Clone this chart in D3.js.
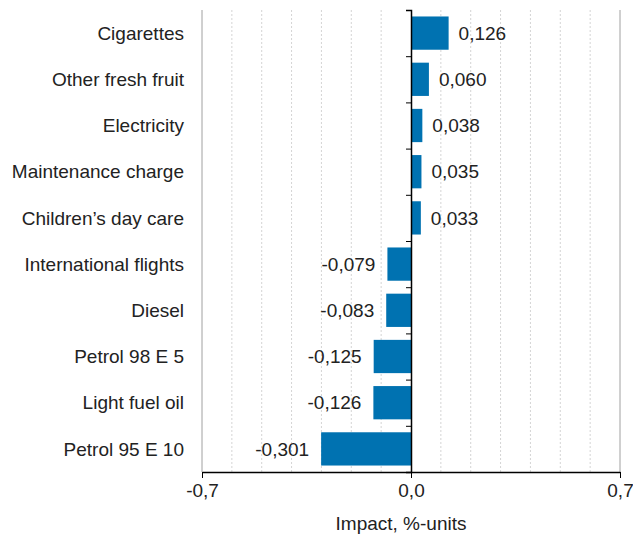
<!DOCTYPE html>
<html>
<head>
<meta charset="utf-8">
<script src="https://cdn.jsdelivr.net/npm/d3@7"></script>
<style>
  body { margin: 0; background: #fff; }
  text { font-family: "Liberation Sans", Arial, sans-serif; fill: #222; }
</style>
</head>
<body>
<div id="chart"></div>
<script>
const categories = ["Cigarettes", "Other fresh fruit", "Electricity", "Maintenance charge",
  "Children\u2019s day care", "International flights", "Diesel", "Petrol 98 E 5",
  "Light fuel oil", "Petrol 95 E 10"];
const values = [0.126, 0.060, 0.038, 0.035, 0.033, -0.079, -0.083, -0.125, -0.126, -0.301];
const xTicks = [-0.7, 0, 0.7];
const axisTitle = "Impact, %-units";

const width = 633, height = 539;
const margin = { top: 10, right: 13, bottom: 67, left: 202 };
const fontSize = "19px";

const svg = d3.select("#chart").append("svg")
  .attr("width", width)
  .attr("height", height);

const x = d3.scaleLinear()
  .domain([-0.7, 0.7])
  .range([margin.left, width - margin.right]);

const y = d3.scaleBand()
  .domain(categories)
  .range([margin.top, height - margin.bottom])
  .paddingInner(0.28)
  .paddingOuter(0.14);

const fmt = (v, p) => d3.format(p)(v).replace("\u2212", "-").replace(".", ",");

// grid lines every 0.1
const grid = d3.range(-7, 8).map(i => i / 10);
svg.append("g")
  .selectAll("line")
  .data(grid.filter(d => Math.abs(d) > 1e-9 && Math.abs(d) < 0.69))
  .enter().append("line")
    .attr("x1", d => x(d)).attr("x2", d => x(d))
    .attr("y1", margin.top).attr("y2", height - margin.bottom)
    .attr("stroke", "#d4d4d4")
    .attr("stroke-dasharray", "2,2");

// outer gray lines
svg.append("g")
  .selectAll("line")
  .data([-0.7, 0.7])
  .enter().append("line")
    .attr("x1", d => x(d)).attr("x2", d => x(d))
    .attr("y1", margin.top).attr("y2", height - margin.bottom)
    .attr("stroke", "#a0a0a0");

// bars
svg.append("g")
  .selectAll("rect")
  .data(values)
  .enter().append("rect")
    .attr("x", d => x(Math.min(0, d)))
    .attr("width", d => Math.abs(x(d) - x(0)))
    .attr("y", (d, i) => y(categories[i]))
    .attr("height", y.bandwidth())
    .attr("fill", "#0072b1");

// value labels
svg.append("g")
  .selectAll("text")
  .data(values)
  .enter().append("text")
    .attr("x", d => d >= 0 ? x(d) + 10 : x(d) - 12)
    .attr("y", (d, i) => y(categories[i]) + y.bandwidth() / 2)
    .attr("dy", "0.35em")
    .attr("text-anchor", d => d >= 0 ? "start" : "end")
    .style("font-size", fontSize)
    .text(d => fmt(d, ".3f"));

// zero axis with category ticks
const yAxis = svg.append("g")
  .attr("transform", `translate(${x(0)},0)`)
  .call(d3.axisLeft(d3.scaleLinear().domain([0, 10]).range([margin.top, height - margin.bottom]))
    .ticks(10).tickSize(5).tickFormat(""));
yAxis.select(".domain").attr("stroke", "#000").attr("stroke-width", 1.5);
yAxis.selectAll(".tick line").attr("stroke", "#000");

// category labels
svg.append("g")
  .selectAll("text")
  .data(categories)
  .enter().append("text")
    .attr("x", 184)
    .attr("y", d => y(d) + y.bandwidth() / 2)
    .attr("dy", "0.35em")
    .attr("text-anchor", "end")
    .style("font-size", fontSize)
    .text(d => d);

// bottom axis
const xAxis = svg.append("g")
  .attr("transform", `translate(0,${height - margin.bottom})`)
  .call(d3.axisBottom(x).tickValues(xTicks).tickSize(6).tickSizeOuter(0)
    .tickFormat(d => fmt(d, ".1f")));
xAxis.select(".domain").attr("stroke", "#000").attr("stroke-width", 1.5);
xAxis.selectAll(".tick line").attr("stroke", "#000");
xAxis.selectAll(".tick text")
  .attr("y", 12)
  .style("font-size", fontSize)
  .style("font-family", "'Liberation Sans', Arial, sans-serif")
  .attr("fill", "#222");

svg.append("text")
  .attr("x", x(0) - 10)
  .attr("y", 530)
  .attr("text-anchor", "middle")
  .style("font-size", fontSize)
  .text(axisTitle);
</script>
</body>
</html>
